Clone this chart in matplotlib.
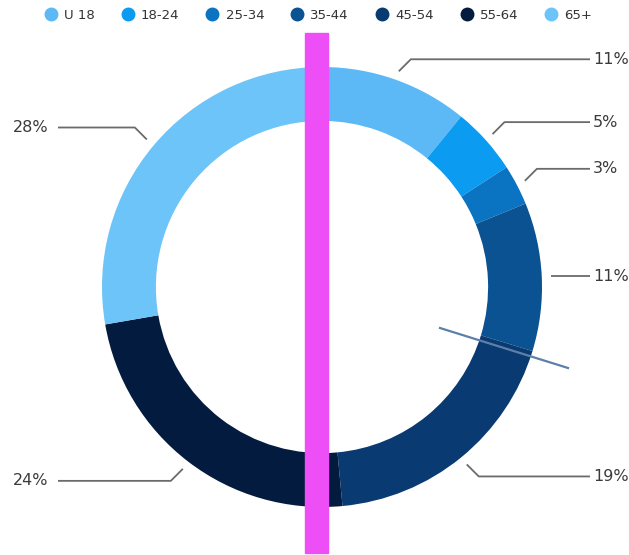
import matplotlib
matplotlib.use("Agg")
import matplotlib.pyplot as plt
from matplotlib.lines import Line2D
from matplotlib.patches import Rectangle
import numpy as np

# data
age_groups = ["U 18", "18-24", "25-34", "35-44", "45-54", "55-64", "65+"]
shares = [11, 5, 3, 11, 19, 24, 28]
colors = ["#5cb9f5", "#0b9bf0", "#0a74c2", "#0a5291", "#093a72", "#031b3f", "#6cc4f8"]

W, H = 629, 555
fig = plt.figure(figsize=(W / 100, H / 100), dpi=100)
ax = fig.add_axes([0, 0, 1, 1])

# ring, pixel units, y measured from bottom
cx, cy = 322, H - 287
r_out = 220
ring = 0.245

wedges, _ = ax.pie(shares, colors=colors, startangle=90, counterclock=False,
                   radius=r_out, center=(cx, cy), frame=True,
                   wedgeprops=dict(width=r_out * ring, linewidth=0))
ax.set_xlim(0, W)
ax.set_ylim(0, H)
ax.set_aspect("auto")
ax.axis("off")

# leader lines + percentage labels
for w, v in zip(wedges, shares):
    ang = np.deg2rad((w.theta1 + w.theta2) / 2)
    ux, uy = np.cos(ang), np.sin(ang)
    x0, y0 = cx + (r_out + 9) * ux, cy + (r_out + 9) * uy
    side = 1 if ux >= 0 else -1
    if abs(uy) < 0.15:
        x1, y1 = x0, y0
    else:
        x1, y1 = x0 + side * 12, y0 + np.sign(uy) * 12
    x2 = 590 if side > 0 else 58
    ax.plot([x0, x1, x2], [y0, y1, y1], color="#6b6b6b", lw=1.3,
            solid_capstyle="butt")
    tx = 593 if side > 0 else 48
    ax.text(tx, y1, f"{v}%", ha="left" if side > 0 else "right", va="center",
            fontsize=11.5, color="#3a3a3a", fontweight="medium")

# stray overlay marks in the picture
ax.plot([440, 568], [H - 328, H - 368], color="#5c80aa", lw=1.6)
ax.add_patch(Rectangle((305, H - 553), 23, 520, color="#ee4ef6", zorder=10))

# legend
handles = [Line2D([], [], marker="o", ls="", color=c, markersize=9) for c in colors]
fig.legend(handles, age_groups, loc="upper center", bbox_to_anchor=(0.505, 1.005),
           ncol=7, frameon=False, fontsize=9.5, handletextpad=0.4,
           handlelength=1.2, columnspacing=1.9, labelcolor="#333333")

fig.savefig("out.png", dpi=100)
